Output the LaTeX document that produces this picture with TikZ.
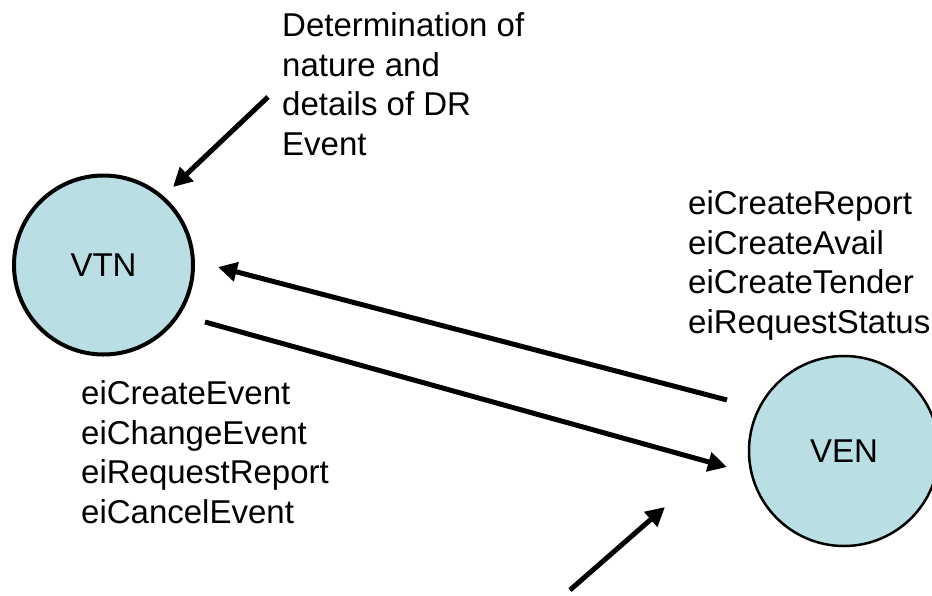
\documentclass[tikz,border=0pt]{standalone}
\usepackage{fontspec}
\setmainfont{Liberation Sans}
\usetikzlibrary{arrows.meta}
\definecolor{partyFill}{HTML}{B9DFE4}

\begin{document}
\begin{tikzpicture}[x=1pt, y=-1pt,
	font=\fontsize{33}{39.5}\selectfont,
	party/.style={circle, draw=black, fill=partyFill, inner sep=0pt},
	msgs/.style={align=left, inner sep=0pt, anchor=base west},
	flow/.style={-{Triangle[length=19pt, width=19pt]}, line width=5pt}]
	
	\useasboundingbox (0,0) rectangle (932,595);
	
	% --- 1. The two parties ---
	\node[party, line width=4pt, minimum size=179pt] (vtn) at (103.5,265) {VTN};
	\node[party, line width=2.5pt, minimum size=190pt] (ven) at (844,451) {VEN};
	
	% --- 2. Message lists (placed by the baseline of their last line) ---
	\node[msgs] (venMsgs) at (688,333) {eiCreateReport\\eiCreateAvail\\eiCreateTender\\eiRequestStatus};
	\node[msgs] (vtnMsgs) at (81,523) {eiCreateEvent\\eiChangeEvent\\eiRequestReport\\eiCancelEvent};
	\node[msgs] (drNote) at (282,155) {Determination of\\nature and\\details of DR\\Event};
	
	% --- 3. Arrow ends ---
	\coordinate (noteTail) at (268,97);
	\coordinate (noteTip)  at (173,187);
	\coordinate (upTail)   at (727,400);
	\coordinate (upTip)    at (218,267);
	\coordinate (downTail) at (205,322);
	\coordinate (downTip)  at (727,467);
	\coordinate (venTail)  at (570,590);
	\coordinate (venTip)   at (665,507);
	
	% --- 4. Arrows ---
	\draw[flow] (noteTail) -- (noteTip);
	\draw[flow] (upTail) -- (upTip);
	\draw[flow] (downTail) -- (downTip);
	\draw[flow] (venTail) -- (venTip);
	
\end{tikzpicture}
\end{document}
